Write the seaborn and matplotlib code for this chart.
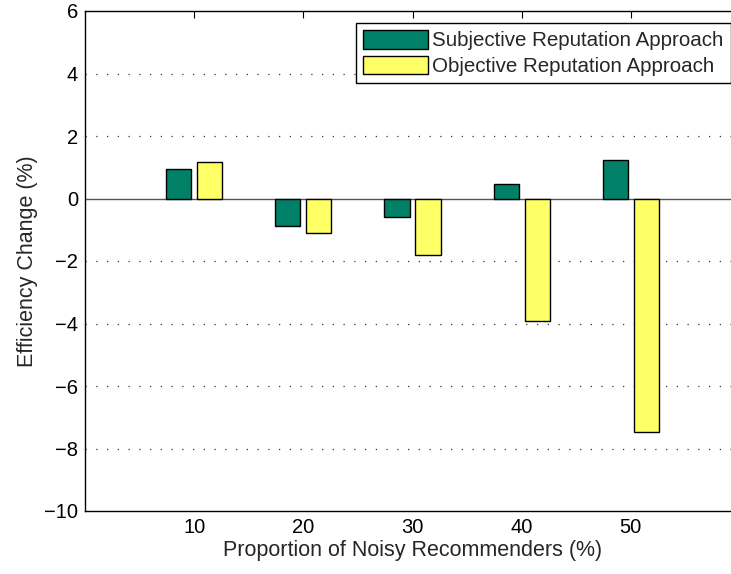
import matplotlib
matplotlib.use("Agg")
import matplotlib.pyplot as plt
import seaborn as sns
import pandas as pd

# Efficiency change per proportion of noisy recommenders
proportions = ["10", "20", "30", "40", "50"]
subjective = [0.93, -0.89, -0.59, 0.47, 1.23]
objective = [1.16, -1.11, -1.81, -3.93, -7.47]
series_names = ["Subjective Reputation Approach", "Objective Reputation Approach"]
y_ticks = [-10, -8, -6, -4, -2, 0, 2, 4, 6]

df = pd.DataFrame({
    "proportion": proportions * 2,
    "change": subjective + objective,
    "approach": [series_names[0]] * len(proportions) + [series_names[1]] * len(proportions),
})

sns.set_style("white")
plt.rcParams["font.family"] = ["Liberation Sans", "DejaVu Sans"]
FS = 14.5
LABEL_FS = 15.5

W, H = 731, 574
fig = plt.figure(figsize=(W / 100, H / 100), dpi=100)
# axes extends a little past the right edge of the canvas
ax = fig.add_axes([85 / W, (H - 511) / H, 655 / W, 500 / H])

palette = {series_names[0]: "#008066", series_names[1]: "#FFFF66"}
sns.barplot(data=df, x="proportion", y="change", hue="approach", order=proportions,
            hue_order=series_names, palette=palette, width=0.568, gap=0.19,
            edgecolor="black", linewidth=1.0, saturation=1, errorbar=None, ax=ax, zorder=3)

ax.set_xlim(-1, 5)
ax.set_ylim(-10, 6)
ax.set_yticks(y_ticks)
ax.set_yticklabels([str(v).replace("-", "\u2212") for v in y_ticks])

# dotted horizontal grid lines
for v in y_ticks[1:-1]:
    if v != 0:
        ax.axhline(v, color="#333333", lw=0.9, linestyle=(0, (1, 7.6)), zorder=1)
ax.axhline(0, color="#555555", lw=1.0, zorder=2)

ax.tick_params(direction="in", length=5, width=0.8, top=True, right=True,
               labelsize=FS, pad=5, colors="black")
for s in ax.spines.values():
    s.set_visible(True)
    s.set_color("black")
    s.set_linewidth(1.0)

ax.set_xlabel("Proportion of Noisy Recommenders (%)", fontsize=LABEL_FS, labelpad=2)
ax.set_ylabel("Efficiency Change (%)", fontsize=LABEL_FS, labelpad=4)

leg = ax.legend(loc="upper left", bbox_to_anchor=(356 / W, 1 - 23 / H),
                bbox_transform=fig.transFigure, borderaxespad=0,
                frameon=True, fancybox=False, edgecolor="black", framealpha=1,
                handlelength=3.15, handleheight=1.0, handletextpad=0.2,
                labelspacing=0.25, borderpad=0.35, fontsize=14.8)
leg.get_frame().set_linewidth(1.0)
leg.set_zorder(5)

fig.savefig("out.png", dpi=100)
